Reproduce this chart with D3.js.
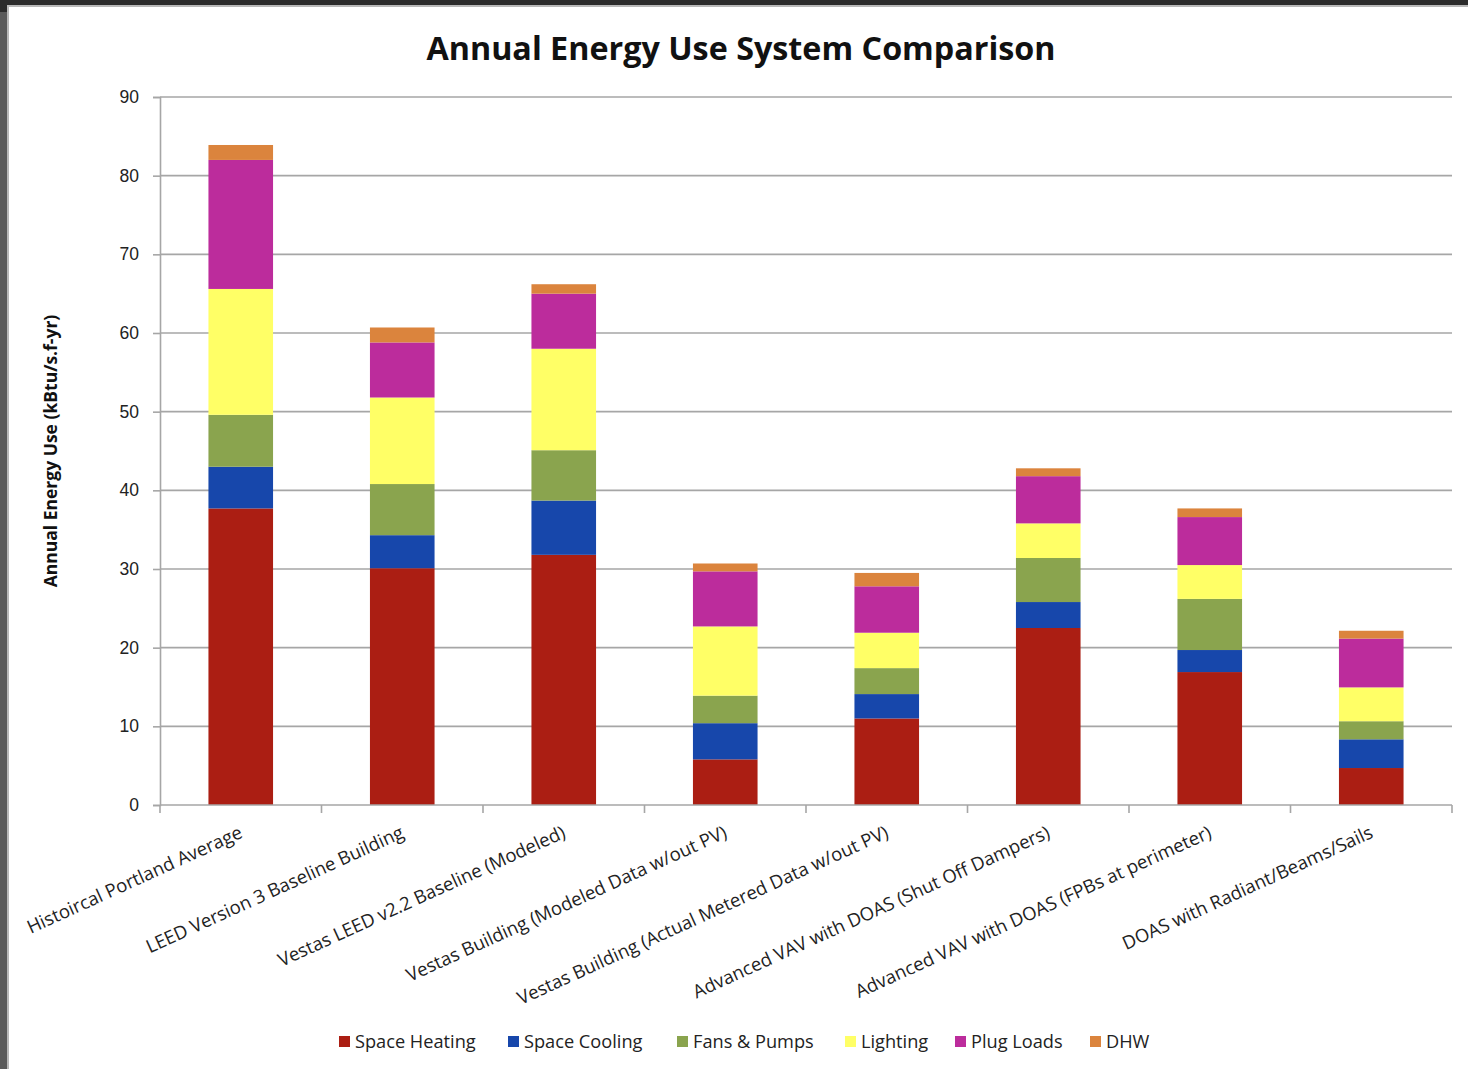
<!DOCTYPE html>
<html>
<head>
<meta charset="utf-8">
<script src="https://cdn.jsdelivr.net/npm/d3@7"></script>
<style>
  html, body { margin: 0; padding: 0; background: #2b2b2b; }
  svg { display: block; }
</style>
</head>
<body>
<script>
// Categories (x axis)
const categories = [
    "Histoircal Portland Average",
    "LEED Version 3 Baseline Building",
    "Vestas LEED v2.2 Baseline (Modeled)",
    "Vestas Building (Modeled Data w/out PV)",
    "Vestas Building (Actual Metered Data w/out PV)",
    "Advanced VAV with DOAS (Shut Off Dampers)",
    "Advanced VAV with DOAS (FPBs at perimeter)",
    "DOAS with Radiant/Beams/Sails"
];

// Series, bottom to top
const seriesNames = ["Space Heating", "Space Cooling", "Fans & Pumps", "Lighting", "Plug Loads", "DHW"];
const spaceHeating = [37.7, 30.1, 31.8, 5.8, 11.0, 22.5, 16.9, 4.7];
const spaceCooling = [5.3, 4.2, 6.9, 4.6, 3.1, 3.3, 2.8, 3.65];
const fansPumps    = [6.6, 6.5, 6.4, 3.5, 3.3, 5.6, 6.5, 2.3];
const lighting     = [16.0, 11.0, 12.9, 8.8, 4.5, 4.4, 4.3, 4.3];
const plugLoads    = [16.4, 7.0, 7.0, 7.0, 5.9, 6.0, 6.1, 6.2];
const dhw          = [1.9, 1.9, 1.2, 1.0, 1.7, 1.0, 1.1, 1.0];
const seriesColors = ["#ab1e13", "#1747ab", "#8aa44e", "#ffff66", "#bc2c9c", "#db843d"];
const yTicks = [0, 10, 20, 30, 40, 50, 60, 70, 80, 90];

const width = 1468, height = 1069;
const margin = { top: 97, right: 16, bottom: 264, left: 160 };

const seriesValues = [spaceHeating, spaceCooling, fansPumps, lighting, plugLoads, dhw];
const table = categories.map((c, i) => {
    const row = { category: c };
    seriesNames.forEach((s, k) => row[s] = seriesValues[k][i]);
    return row;
});
const stacked = d3.stack().keys(seriesNames)(table);

const svg = d3.select("body").append("svg")
    .attr("width", width)
    .attr("height", height)
    .style("font-family", "'Open Sans', sans-serif");

// Window frame + chart area
svg.append("rect").attr("x", 0).attr("y", 0).attr("width", width).attr("height", height).attr("fill", "#2b2b2b");
svg.append("rect").attr("x", 0).attr("y", 12).attr("width", 7).attr("height", height).attr("fill", "#5a5a5a");
svg.append("rect").attr("x", 8).attr("y", 6).attr("width", width).attr("height", height)
    .attr("fill", "#ffffff").attr("stroke", "#b8b8b8").attr("stroke-width", 2);

const x = d3.scaleBand()
    .domain(categories)
    .range([margin.left, width - margin.right])
    .paddingInner(0.6)
    .paddingOuter(0.3);

const y = d3.scaleLinear()
    .domain([0, 90])
    .range([height - margin.bottom, margin.top]);

const color = d3.scaleOrdinal().domain(seriesNames).range(seriesColors);

// Gridlines
svg.append("g")
    .selectAll("line")
    .data(yTicks.filter(d => d > 0))
    .join("line")
    .attr("x1", margin.left)
    .attr("x2", width - margin.right)
    .attr("y1", d => y(d))
    .attr("y2", d => y(d))
    .attr("stroke", "#a6a6a6")
    .attr("stroke-width", 1.6);

// Y axis
const yAxis = svg.append("g")
    .attr("transform", `translate(${margin.left},0)`)
    .call(d3.axisLeft(y).tickValues(yTicks).tickSize(7).tickPadding(14));
yAxis.select(".domain").attr("stroke", "#a6a6a6").attr("stroke-width", 1.6);
yAxis.selectAll(".tick line").attr("stroke", "#a6a6a6").attr("stroke-width", 1.6);
yAxis.selectAll("text").attr("font-size", 17.5).attr("fill", "#222");

// Bars
svg.append("g")
    .selectAll("g")
    .data(stacked)
    .join("g")
    .attr("fill", d => color(d.key))
    .selectAll("rect")
    .data(d => d)
    .join("rect")
    .attr("x", d => x(d.data.category))
    .attr("width", x.bandwidth())
    .attr("y", d => y(d[1]))
    .attr("height", d => y(d[0]) - y(d[1]));

// X axis
const xAxis = svg.append("g")
    .attr("transform", `translate(0,${y(0)})`);
xAxis.append("line")
    .attr("x1", margin.left).attr("x2", width - margin.right)
    .attr("stroke", "#a6a6a6").attr("stroke-width", 1.6);
xAxis.selectAll(".xtick")
    .data(d3.range(categories.length + 1))
    .join("line")
    .attr("x1", i => margin.left + i * (width - margin.right - margin.left) / categories.length)
    .attr("x2", i => margin.left + i * (width - margin.right - margin.left) / categories.length)
    .attr("y1", 0).attr("y2", 8)
    .attr("stroke", "#a6a6a6").attr("stroke-width", 1.6);
xAxis.selectAll(".xlabel")
    .data(categories)
    .join("text")
    .attr("text-anchor", "end")
    .attr("font-size", 18.5)
    .attr("fill", "#222")
    .attr("transform", d => `translate(${x(d) + x.bandwidth() / 2 + 3},${32}) rotate(-24.5)`)
    .text(d => d);

// Title
svg.append("text")
    .attr("x", 741)
    .attr("y", 60)
    .attr("text-anchor", "middle")
    .attr("font-size", 32.3)
    .attr("font-weight", "bold")
    .attr("fill", "#111")
    .text("Annual Energy Use System Comparison");

// Y axis title
svg.append("text")
    .attr("transform", `translate(57,${(y(0) + y(90)) / 2 }) rotate(-90)`)
    .attr("text-anchor", "middle")
    .attr("font-size", 17.5)
    .attr("font-weight", "bold")
    .attr("fill", "#111")
    .text("Annual Energy Use (kBtu/s.f-yr)");

// Legend
const legendX = [339, 508, 677, 845, 955, 1090];
const legend = svg.append("g")
    .selectAll("g")
    .data(seriesNames)
    .join("g")
    .attr("transform", (d, i) => `translate(${legendX[i]},1036)`);
legend.append("rect")
    .attr("width", 11).attr("height", 11)
    .attr("fill", d => color(d));
legend.append("text")
    .attr("x", 16).attr("y", 11.5)
    .attr("font-size", 18.2)
    .attr("fill", "#222")
    .text(d => d);
</script>
</body>
</html>
